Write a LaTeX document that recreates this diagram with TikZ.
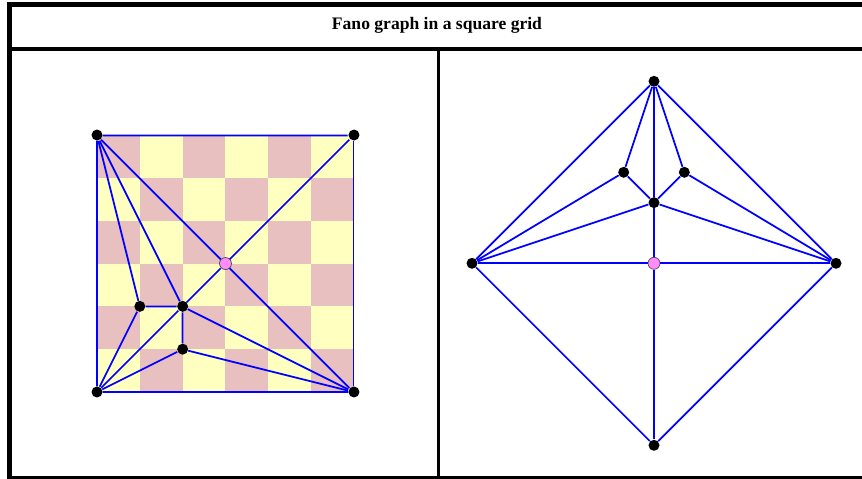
\documentclass[tikz,border=0pt]{standalone}
\usepackage{fontspec}
\setmainfont{Liberation Serif}
\definecolor{cellpink}{RGB}{232,192,192}
\definecolor{cellyellow}{RGB}{255,255,192}
\definecolor{gridgray}{RGB}{192,192,192}
\definecolor{dotpink}{RGB}{255,140,250}

\begin{document}
\begin{tikzpicture}[x=0.02cm, y=-0.02cm,
    edge/.style={blue, line width=1pt},
    vtx/.style={circle, fill=black, inner sep=0pt, minimum size=0.22cm},
    xvtx/.style={circle, draw=black!70, fill=dotpink, line width=0.4pt, inner sep=0pt, minimum size=0.24cm},
    frame/.style={black, line width=0.1cm}]
    \useasboundingbox (0,0) rectangle (862,479);
    \clip (0,0) rectangle (862,479);

    \draw[frame] (9.5,4.5) rectangle (870,478.5);
    \draw[black, line width=0.065cm] (9.5,49) -- (870,49);
    \draw[black, line width=0.065cm] (438.5,49) -- (438.5,478.5);
    \node[font=\bfseries\fontsize{10}{12}\selectfont] (title) at (437,25) {Fano graph in a square grid};

    \begin{scope}[shift={(97,392)}, xscale=42.83, yscale=-42.83]
        \foreach \i in {0,...,5}
            \foreach \j in {0,...,5} {
                \ifodd\numexpr\i+\j\relax
                    \fill[cellpink] (\i,\j) rectangle ++(1,1);
                \else
                    \fill[cellyellow] (\i,\j) rectangle ++(1,1);
                \fi
            }
        \draw[gridgray, line width=0.8pt] (0,0) grid (6,6);

        \node[vtx] (a) at (0,6) {};
        \node[vtx] (b) at (6,6) {};
        \node[vtx] (c) at (0,0) {};
        \node[vtx] (d) at (6,0) {};
        \node[vtx] (e) at (1,2) {};
        \node[vtx] (f) at (2,2) {};
        \node[vtx] (g) at (2,1) {};
        \node[xvtx] (p) at (3,3) {};

        \draw[edge] (a) -- (b);
        \draw[edge] (b) -- (d);
        \draw[edge] (d) -- (c);
        \draw[edge] (c) -- (a);
        \draw[edge] (a) -- (p);
        \draw[edge] (p) -- (d);
        \draw[edge] (b) -- (p);
        \draw[edge] (p) -- (f);
        \draw[edge] (f) -- (c);
        \draw[edge] (a) -- (e);
        \draw[edge] (a) -- (f);
        \draw[edge] (e) -- (f);
        \draw[edge] (e) -- (c);
        \draw[edge] (f) -- (g);
        \draw[edge] (f) -- (d);
        \draw[edge] (g) -- (c);
        \draw[edge] (g) -- (d);
    \end{scope}

    \begin{scope}[shift={(654,263.3)}, xscale=182, yscale=-182]
        \node[vtx] (top) at (0,1) {};
        \node[vtx] (left) at (-1,0) {};
        \node[vtx] (right) at (1,0) {};
        \node[vtx] (bottom) at (0,-1) {};
        \node[vtx] (mid) at (0,1/3) {};
        \node[vtx] (ul) at (-1/6,1/2) {};
        \node[vtx] (ur) at (1/6,1/2) {};
        \node[xvtx] (q) at (0,0) {};

        \draw[edge] (top) -- (left);
        \draw[edge] (top) -- (right);
        \draw[edge] (left) -- (bottom);
        \draw[edge] (right) -- (bottom);
        \draw[edge] (top) -- (mid);
        \draw[edge] (mid) -- (q);
        \draw[edge] (q) -- (bottom);
        \draw[edge] (left) -- (q);
        \draw[edge] (q) -- (right);
        \draw[edge] (top) -- (ul);
        \draw[edge] (top) -- (ur);
        \draw[edge] (ul) -- (left);
        \draw[edge] (ur) -- (right);
        \draw[edge] (ul) -- (mid);
        \draw[edge] (ur) -- (mid);
        \draw[edge] (mid) -- (left);
        \draw[edge] (mid) -- (right);
    \end{scope}
\end{tikzpicture}
\end{document}
